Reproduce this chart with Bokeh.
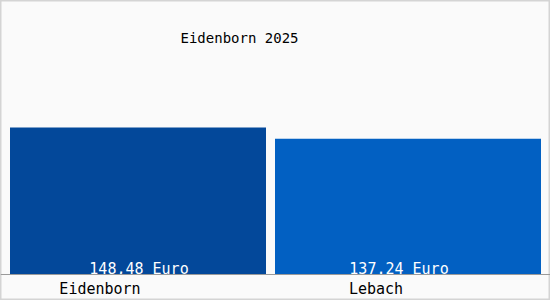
from bokeh.plotting import figure
from bokeh.models import ColumnDataSource, FactorRange, Range1d, Span, Label
from bokeh.transform import dodge
from bokeh.core.properties import value
from bokeh.embed import file_html
from bokeh.resources import INLINE

categories = ["Eidenborn", "Lebach"]
values = [148.48, 137.24]
value_labels = ["148,48 Euro", "137.24 Euro"]
title_text = "Eidenborn 2025"

# styles
bar_colors = ["#03489a", "#0260c2"]
bar_widths_px = [256, 266]
value_label_dx = [1, -9]
cat_label_dx = [-38, -32]

W, H = 550, 300
px_per_cat = 270.0
pad = (W / px_per_cat - len(categories)) / 2.0
shift = -2.5 / px_per_cat

base_px = 274.0
px_per_unit = 147.0 / 148.48
y_start = -(H - base_px) / px_per_unit
y_end = base_px / px_per_unit

src = ColumnDataSource(dict(cat=categories, val=values, lab=value_labels, col=bar_colors,
                            w=[b / px_per_cat for b in bar_widths_px],
                            vdx=value_label_dx, cdx=cat_label_dx,
                            zero=[0] * len(categories)))

p = figure(width=W, height=H, output_backend="svg", toolbar_location=None,
           x_range=FactorRange(factors=categories, range_padding=pad, range_padding_units="absolute"),
           y_range=Range1d(y_start, y_end),
           x_axis_location=None, y_axis_location=None,
           min_border=0, min_border_left=0, min_border_right=0,
           min_border_top=0, min_border_bottom=0)
p.background_fill_color = "#fafafa"
p.border_fill_color = "#fafafa"
p.outline_line_color = "#d4d4d4"
p.outline_line_width = 2
p.xgrid.visible = False
p.ygrid.visible = False

xs = dodge("cat", shift, range=p.x_range)
p.vbar(x=xs, top="val", bottom=0, width="w", fill_color="col", line_color=None, source=src)

p.add_layout(Span(location=0, dimension="width", line_color="#9a9a9a", line_width=1))

font = value("DejaVu Sans Mono")
p.text(x=xs, y="zero", text="lab", source=src, text_color="white", text_font=font,
       text_font_size="15px", text_align="center", text_baseline="alphabetic", y_offset=-6, x_offset="vdx")
p.text(x=xs, y="zero", text="cat", source=src, text_color="black", text_font=font,
       text_font_size="15px", text_align="center", text_baseline="alphabetic", y_offset=14, x_offset="cdx")

p.add_layout(Label(x=180, y=H - 37, x_units="screen", y_units="screen", text=title_text,
                   text_font="DejaVu Sans Mono", text_font_size="14px", text_color="black",
                   text_baseline="alphabetic"))

open("out.html", "w").write(file_html(p, INLINE))
